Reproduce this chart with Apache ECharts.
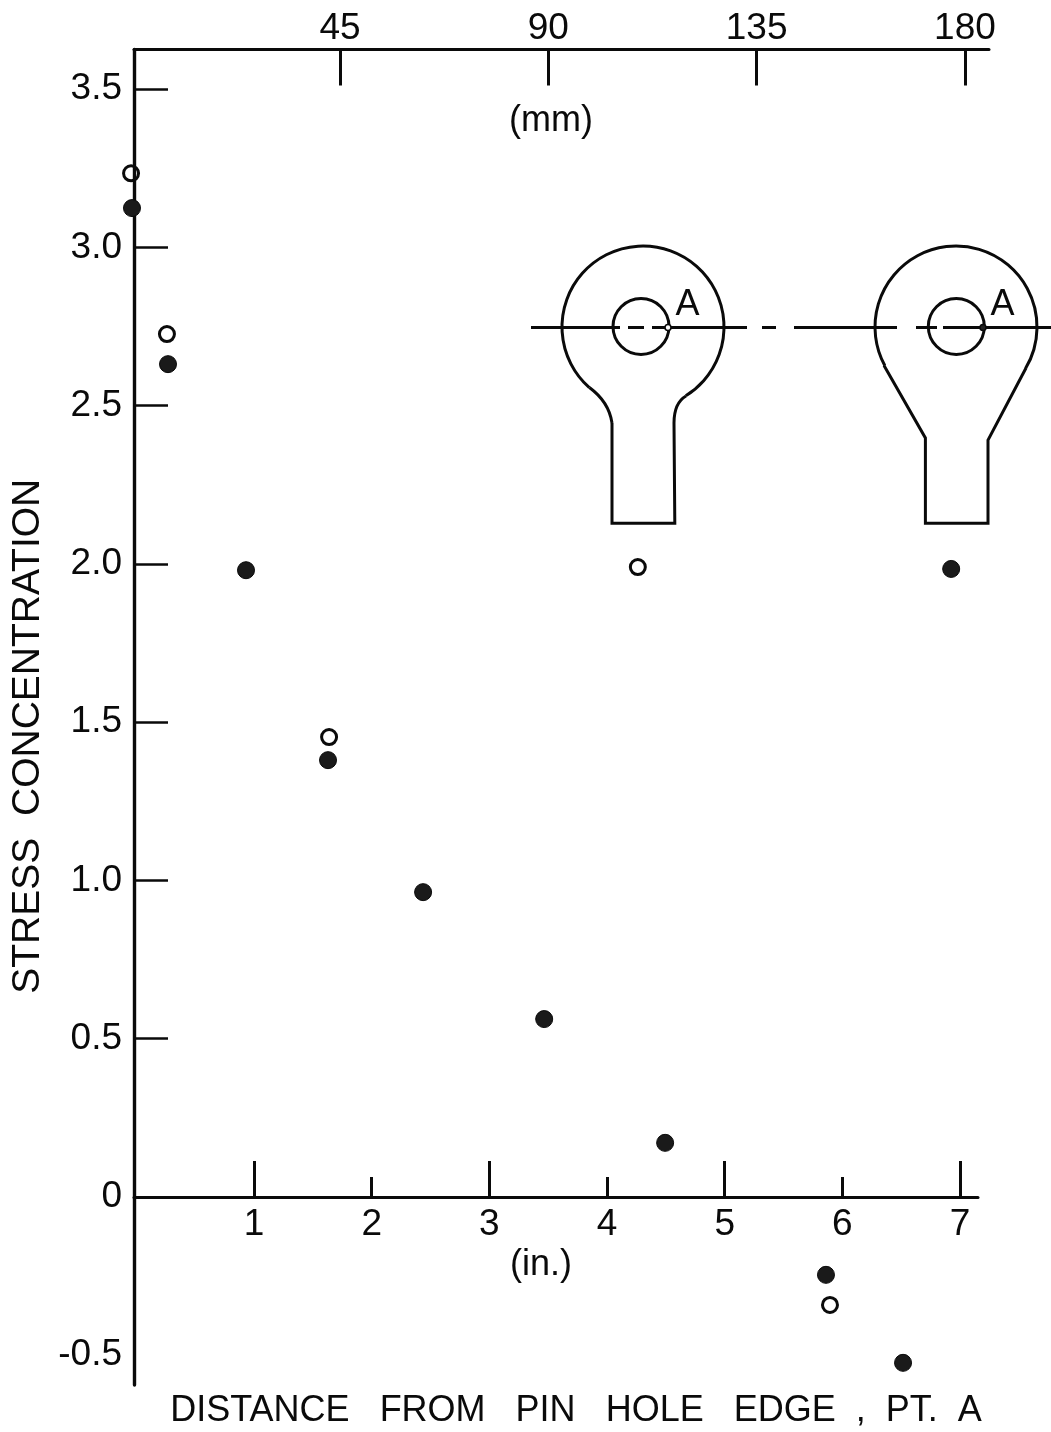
<!DOCTYPE html>
<html>
<head>
<meta charset="utf-8">
<style>html,body{margin:0;padding:0;background:#fff}#c{width:1051px;height:1432px}</style>
<script src="https://cdn.jsdelivr.net/npm/echarts@6/dist/echarts.min.js"></script>
</head>
<body>
<div id="c"></div>
<script>
// Data
const openInches   = [-0.045, 0.26, 1.638, 4.262, 5.895];
const openStress   = [3.234, 2.726, 1.453, 1.99, -0.341];
const filledInches = [-0.037, 0.269, 0.932, 1.629, 2.437, 3.466, 4.494, 5.861, 6.516, 6.925];
const filledStress = [3.124, 2.631, 1.98, 1.38, 0.963, 0.562, 0.171, -0.246, -0.524, 1.984];
const yLabels = [-0.5, 0, 0.5, 1, 1.5, 2, 2.5, 3, 3.5];
const yTicks = [0.5, 1, 1.5, 2, 2.5, 3, 3.5];
const inchLabels = [1, 2, 3, 4, 5, 6, 7];
const inchMajor = [1, 3, 5, 7];
const inchMinor = [2, 4, 6];
const mmTicks = [45, 90, 135, 180];

const FONT = '"Liberation Sans", sans-serif';
const INK = '#0a0a0a';
const zip = (a, b) => a.map((v, i) => [v, b[i]]);
const fmtY = v => (v === 0 ? '0' : v.toFixed(1));
const rad = d => d * Math.PI / 180;

// Inset drawings (decoration, page pixels)
const graphic = [];
const lineStyle = {fill: 'none', stroke: INK, lineWidth: 3};
const addPoly = pts => graphic.push({type: 'polyline', shape: {points: pts}, style: lineStyle});
const addCurve = (a, c, b) => graphic.push({type: 'bezierCurve', shape: {x1: a[0], y1: a[1], cpx1: c[0], cpy1: c[1], x2: b[0], y2: b[1]}, style: lineStyle});
const addArc = (cx, cy, r, s, e) => graphic.push({type: 'arc', shape: {cx, cy, r, startAngle: rad(s), endAngle: rad(e), clockwise: true}, style: lineStyle});

addArc(643, 327, 81, 131.5, 58.1);
addCurve([589.4, 387.5], [609, 402], [612, 423]);
addCurve([686, 396], [674, 403], [674, 423]);
addPoly([[612, 423], [612, 523.3], [674.8, 523.3], [674, 423]]);

addArc(956, 327, 81, 151.6, 30.7);
addPoly([[884, 365.5], [925.4, 438], [925.4, 523.3], [988, 523.3], [988, 440], [1026, 368]]);

const centerDashes = [[531, 620], [628, 644], [652, 747], [762, 776], [794, 897], [916, 937], [943, 1051]];
centerDashes.forEach(d => addPoly([[d[0], 327.5], [d[1], 327.5]]));

const insetCircles = [[641, 326.5, 28], [956.3, 326.5, 28]];
insetCircles.forEach(c => graphic.push({type: 'circle', shape: {cx: c[0], cy: c[1], r: c[2]}, style: lineStyle}));
const pinDots = [[668, 327.5, '#fff'], [983, 327.5, '#222']];
pinDots.forEach(c => graphic.push({type: 'circle', z: 5, shape: {cx: c[0], cy: c[1], r: 3}, style: {fill: c[2], stroke: INK, lineWidth: 1.6}}));
const insetLetters = [[687.5, 305], [1002.5, 305]];
insetLetters.forEach(p => graphic.push({type: 'text', x: p[0], y: p[1], style: {text: 'A', font: '36px ' + FONT, fill: INK, align: 'center', verticalAlign: 'middle'}}));
graphic.push({type: 'text', x: 551, y: 121, style: {text: '(mm)', font: '36px ' + FONT, fill: INK, align: 'center', verticalAlign: 'middle'}});
graphic.push({type: 'text', x: 541, y: 1265, style: {text: '(in.)', font: '36px ' + FONT, fill: INK, align: 'center', verticalAlign: 'middle'}});

const YMIN = -0.594, YMAX = 3.625;
const XMIN = -0.02, XMAX = 7.153;
const option = {
  animation: false,
  backgroundColor: '#fff',
  grid: [
    {left: 134, top: 49.5, width: 844, height: 1335.5, outerBoundsMode: 'none'},
    {left: 134, top: 49.5, width: 855, height: 1335.5, outerBoundsMode: 'none'},
    {left: 134, top: 49.5, width: 844, height: 1147.5, outerBoundsMode: 'none'}
  ],
  xAxis: [
    {gridIndex: 0, type: 'value', min: XMIN, max: XMAX, show: false},
    {
      gridIndex: 1, type: 'value', position: 'top', min: 0.5, max: 185.2,
      splitLine: {show: false},
      axisLine: {show: true, onZero: false, lineStyle: {color: INK, width: 3}},
      axisTick: {show: true, inside: true, length: 36, customValues: mmTicks, lineStyle: {color: INK, width: 3}},
      axisLabel: {show: true, customValues: mmTicks, margin: 2, color: INK, fontFamily: FONT, fontSize: 37, hideOverlap: false}
    },
    {
      gridIndex: 2, type: 'value', position: 'bottom', min: XMIN, max: XMAX,
      splitLine: {show: false},
      axisLine: {show: true, onZero: false, lineStyle: {color: INK, width: 3}},
      axisTick: {show: true, inside: true, length: 36, customValues: inchMajor, lineStyle: {color: INK, width: 3}},
      axisLabel: {show: true, customValues: inchLabels, margin: 9, color: INK, fontFamily: FONT, fontSize: 37, hideOverlap: false},
      name: 'DISTANCE   FROM   PIN   HOLE   EDGE  ,  PT.  A',
      nameLocation: 'middle', nameGap: 196,
      nameTextStyle: {color: INK, fontFamily: FONT, fontSize: 36, padding: [0, 0, 0, 40]}
    },
    {
      gridIndex: 2, type: 'value', position: 'bottom', min: XMIN, max: XMAX,
      splitLine: {show: false},
      axisLine: {show: false, onZero: false},
      axisTick: {show: true, inside: true, length: 20, customValues: inchMinor, lineStyle: {color: INK, width: 3}},
      axisLabel: {show: false}
    }
  ],
  yAxis: [
    {
      gridIndex: 0, type: 'value', min: YMIN, max: YMAX, position: 'left',
      splitLine: {show: false},
      axisLine: {show: true, onZero: false, lineStyle: {color: INK, width: 3.4}},
      axisTick: {show: true, inside: true, length: 34, customValues: yTicks, lineStyle: {color: INK, width: 2.6}},
      axisLabel: {show: true, customValues: yLabels, formatter: fmtY, margin: 12, padding: [7, 0, 0, 0], color: INK, fontFamily: FONT, fontSize: 37, hideOverlap: false},
      name: 'STRESS  CONCENTRATION',
      nameLocation: 'middle', nameGap: 77, nameRotate: 90,
      nameTextStyle: {color: INK, fontFamily: FONT, fontSize: 39, padding: [0, 38, 0, 0]}
    },
    {gridIndex: 1, type: 'value', min: YMIN, max: YMAX, show: false},
    {gridIndex: 2, type: 'value', min: 0, max: YMAX, show: false}
  ],
  graphic: {elements: graphic},
  series: [
    {
      name: 'Open', type: 'scatter', xAxisIndex: 0, yAxisIndex: 0, clip: false, z: 4,
      data: zip(openInches, openStress), symbol: 'circle', symbolSize: 15,
      itemStyle: {color: 'rgba(0,0,0,0)', borderColor: INK, borderWidth: 3, opacity: 1}
    },
    {
      name: 'Filled', type: 'scatter', xAxisIndex: 0, yAxisIndex: 0, clip: false, z: 4,
      data: zip(filledInches, filledStress), symbol: 'circle', symbolSize: 17,
      itemStyle: {color: '#1a1a1a', borderColor: INK, borderWidth: 1, opacity: 1}
    }
  ]
};
const chart = echarts.init(document.getElementById('c'), null, {renderer: 'canvas'});
chart.setOption(option);
</script>
</body>
</html>
